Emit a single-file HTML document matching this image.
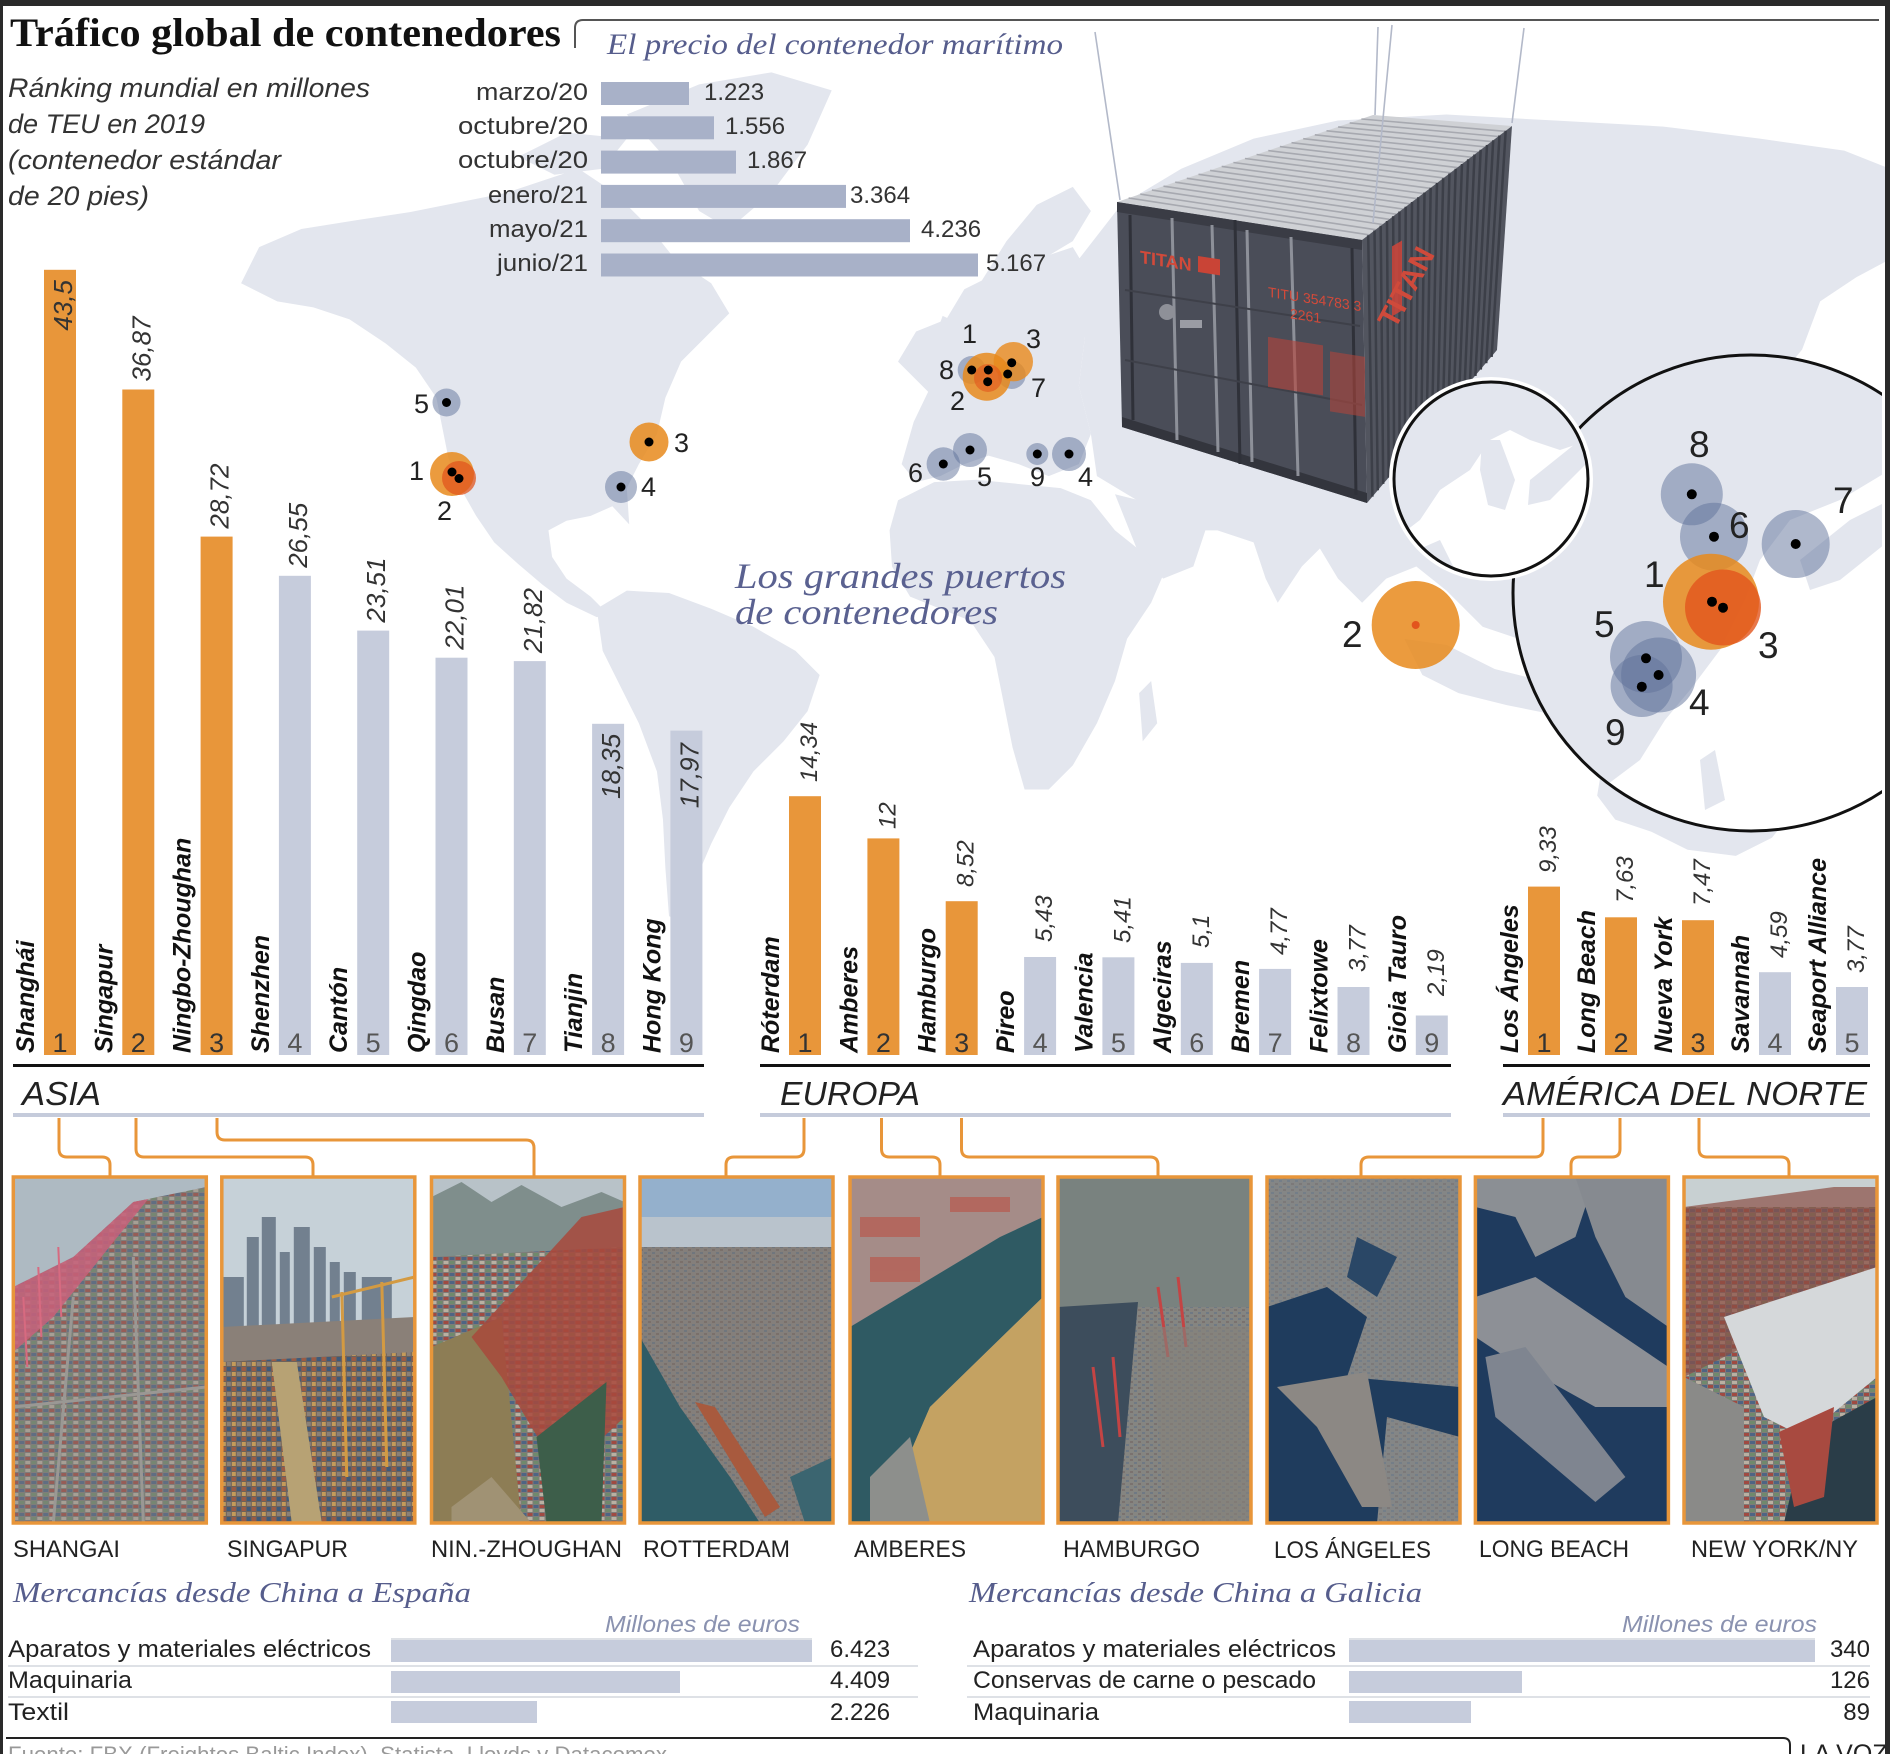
<!DOCTYPE html>
<html><head><meta charset="utf-8"><style>
html,body{margin:0;padding:0;background:#fff;}
svg{display:block;}
.sans{font-family:"Liberation Sans",sans-serif;}
.serif{font-family:"Liberation Serif",serif;}
</style></head><body>
<svg width="1890" height="1754" viewBox="0 0 1890 1754" xmlns="http://www.w3.org/2000/svg">
<defs>
<pattern id="pc" width="12" height="8" patternUnits="userSpaceOnUse">
<rect width="12" height="8" fill="#7f7b78"/><rect x="0" y="0" width="5" height="3" fill="#a04a42"/><rect x="6" y="0" width="5" height="3" fill="#4e6584"/><rect x="0" y="4" width="5" height="3" fill="#b9b0a2"/><rect x="6" y="4" width="5" height="3" fill="#6f8a6c"/>
</pattern>
<pattern id="pc2" width="10" height="10" patternUnits="userSpaceOnUse">
<rect width="10" height="10" fill="#6d625c"/><rect x="0" y="0" width="4" height="4" fill="#9b5a44"/><rect x="5" y="0" width="4" height="4" fill="#3f5a7a"/><rect x="0" y="5" width="4" height="4" fill="#c49a5a"/><rect x="5" y="5" width="4" height="4" fill="#8a8078"/>
</pattern>
<pattern id="pc3" width="8" height="6" patternUnits="userSpaceOnUse">
<rect width="8" height="6" fill="#8a8884"/><rect x="0" y="0" width="3" height="2" fill="#7a6e6a"/><rect x="4" y="3" width="3" height="2" fill="#6a7888"/>
</pattern>
<clipPath id="cp"><rect x="0" y="0" width="193" height="346"/></clipPath>
<clipPath id="pageclip"><rect x="0" y="0" width="1882" height="1754"/></clipPath>
<clipPath id="bigc"><circle cx="1751" cy="593" r="238"/></clipPath>
<clipPath id="smc"><circle cx="1491" cy="479" r="97"/></clipPath>
</defs>

<rect width="1890" height="1754" fill="#fff"/>

<!-- MAP -->
<g transform="scale(1.2054)" fill="#e3e6ee">
<path d="M200,235 L215,205 L250,190 L300,182 L340,176 L380,168 L420,160 L450,150 L480,140 L510,160 L540,190 L560,215 L590,235 L605,260 L585,280 L565,300 L552,330 L545,360 L530,385 L520,405 L522,435 L508,420 L490,428 L470,432 L455,440 L458,462 L470,480 L490,495 L505,510 L495,512 L470,500 L450,485 L430,468 L410,450 L395,428 L382,405 L372,380 L366,350 L362,330 L345,305 L320,285 L290,265 L260,255 L230,250 Z"/>
<path d="M520,95 L580,70 L640,60 L690,75 L670,120 L640,160 L605,190 L580,175 L560,140 Z"/>
<path d="M430,130 L470,110 L520,115 L500,140 L460,145 Z"/>
<path d="M495,505 L520,490 L555,492 L590,505 L625,520 L660,540 L680,560 L670,590 L650,615 L625,640 L605,670 L590,700 L575,735 L565,765 L555,760 L552,720 L550,680 L545,640 L530,600 L515,570 L500,540 Z"/>
<path d="M745,300 L760,275 L785,265 L800,240 L830,225 L860,215 L890,205 L905,230 L900,280 L895,320 L905,360 L895,385 L870,395 L845,385 L820,378 L800,385 L780,395 L760,400 L748,385 L758,350 L770,325 Z"/>
<path d="M810,240 L835,200 L860,170 L890,155 L905,175 L890,200 L865,215 L840,240 Z"/>
<path d="M772,290 L782,262 L795,268 L800,300 L790,315 L775,310 Z"/>
<path d="M745,415 L775,400 L810,398 L850,402 L880,405 L905,415 L925,440 L950,460 L968,470 L955,500 L935,530 L925,565 L910,600 L890,635 L870,655 L850,655 L840,620 L832,580 L825,545 L805,515 L780,505 L755,495 L740,470 L738,440 Z"/>
<path d="M945,575 L955,565 L960,600 L948,615 Z"/>
<path d="M895,215 L930,170 L980,140 L1040,115 L1110,100 L1200,95 L1290,100 L1380,105 L1460,115 L1530,125 L1568,140 L1568,215 L1540,230 L1510,250 L1495,290 L1470,320 L1445,350 L1425,380 L1400,395 L1380,420 L1360,440 L1340,470 L1320,500 L1290,520 L1260,530 L1230,520 L1200,490 L1175,470 L1150,480 L1130,500 L1110,480 L1095,455 L1080,470 L1060,500 L1050,480 L1040,450 L1010,440 L980,440 L960,425 L935,410 L910,395 L905,360 L895,320 L900,280 Z"/>
<path d="M925,410 L965,420 L1000,440 L990,470 L965,480 L945,460 Z"/>
<path d="M1470,330 L1490,300 L1505,320 L1480,380 L1460,395 L1450,385 Z"/>
<path d="M1165,530 L1200,535 L1240,555 L1280,565 L1320,575 L1340,590 L1300,595 L1250,585 L1210,575 L1180,560 Z"/>
<path d="M1360,470 L1375,460 L1385,500 L1370,510 Z"/>
<path d="M1330,630 L1360,605 L1400,595 L1430,600 L1460,615 L1485,640 L1490,670 L1470,695 L1440,710 L1400,705 L1370,690 L1340,680 L1325,660 Z"/>
</g>

<!-- BIG CIRCLE -->
<g clip-path="url(#pageclip)">
<circle cx="1751" cy="593" r="238" fill="#fff"/>
<g clip-path="url(#bigc)" fill="#e3e6ee">
<path d="M1500,340 L1890,340 L1890,470 L1840,500 L1790,520 L1760,560 L1745,600 L1720,650 L1690,690 L1665,720 L1640,760 L1600,790 L1560,800 L1500,800 Z"/>
<path d="M1800,560 L1850,520 L1890,500 L1890,540 L1840,580 L1810,590 Z"/>
<path d="M1700,760 L1715,750 L1725,800 L1705,810 Z"/>
</g>
<circle cx="1751" cy="593" r="238" fill="none" stroke="#111" stroke-width="3"/>
</g>

<!-- CONTAINER -->
<g>
<polygon points="1117,202 1373,115 1512,126 1362,240" fill="#cfd1d5"/>
<g stroke="#a7a9b0" stroke-width="1.6">
<line x1="1128.6" y1="198" x2="1368.8" y2="234.8"/><line x1="1140.3" y1="194.1" x2="1375.6" y2="229.7"/><line x1="1151.9" y1="190.1" x2="1382.5" y2="224.5"/><line x1="1163.5" y1="186.2" x2="1389.3" y2="219.3"/><line x1="1175.2" y1="182.2" x2="1396.1" y2="214.2"/><line x1="1186.8" y1="178.3" x2="1402.9" y2="209"/><line x1="1198.5" y1="174.3" x2="1409.7" y2="203.8"/><line x1="1210.1" y1="170.4" x2="1416.5" y2="198.6"/><line x1="1221.7" y1="166.4" x2="1423.4" y2="193.5"/><line x1="1233.4" y1="162.5" x2="1430.2" y2="188.3"/><line x1="1245" y1="158.5" x2="1437" y2="183.1"/><line x1="1256.6" y1="154.5" x2="1443.8" y2="177.9"/><line x1="1268.3" y1="150.6" x2="1450.6" y2="172.8"/><line x1="1279.9" y1="146.6" x2="1457.5" y2="167.6"/><line x1="1291.5" y1="142.7" x2="1464.3" y2="162.4"/><line x1="1303.2" y1="138.7" x2="1471.1" y2="157.2"/><line x1="1314.8" y1="134.8" x2="1477.9" y2="152"/><line x1="1326.5" y1="130.8" x2="1484.7" y2="146.8"/><line x1="1338.1" y1="126.9" x2="1491.5" y2="141.6"/><line x1="1349.7" y1="122.9" x2="1498.4" y2="136.5"/><line x1="1361.4" y1="119" x2="1505.2" y2="131.3"/>
</g>
<polygon points="1362,240 1512,126 1497,350 1367,503" fill="#52555f"/>
<g stroke="#3c3f48" stroke-width="2.5">
<line x1="1368.2" y1="235.3" x2="1372.4" y2="496.6"/><line x1="1374.5" y1="230.5" x2="1377.8" y2="490.3"/><line x1="1380.7" y1="225.8" x2="1383.2" y2="483.9"/><line x1="1387" y1="221" x2="1388.7" y2="477.6"/><line x1="1393.2" y1="216.3" x2="1394.1" y2="471.2"/><line x1="1399.5" y1="211.5" x2="1399.5" y2="464.9"/><line x1="1405.7" y1="206.8" x2="1404.9" y2="458.5"/><line x1="1412" y1="202" x2="1410.3" y2="452.1"/><line x1="1418.2" y1="197.3" x2="1415.8" y2="445.8"/><line x1="1424.5" y1="192.5" x2="1421.2" y2="439.4"/><line x1="1430.7" y1="187.8" x2="1426.6" y2="433.1"/><line x1="1437" y1="183" x2="1432" y2="426.8"/><line x1="1443.2" y1="178.3" x2="1437.4" y2="420.4"/><line x1="1449.5" y1="173.5" x2="1442.8" y2="414.1"/><line x1="1455.7" y1="168.8" x2="1448.3" y2="407.7"/><line x1="1462" y1="164" x2="1453.7" y2="401.4"/><line x1="1468.2" y1="159.3" x2="1459.1" y2="395"/><line x1="1474.5" y1="154.5" x2="1464.5" y2="388.6"/><line x1="1480.7" y1="149.8" x2="1469.9" y2="382.3"/><line x1="1487" y1="145" x2="1475.4" y2="375.9"/><line x1="1493.2" y1="140.3" x2="1480.8" y2="369.6"/><line x1="1499.5" y1="135.5" x2="1486.2" y2="363.2"/><line x1="1505.7" y1="130.8" x2="1491.6" y2="356.9"/>
</g>
<g fill="#d0453a" opacity="0.85">
<rect x="1392" y="250" width="10" height="70" transform="skewY(-30) translate(0,800)"/>
</g>
<text x="0" y="0" transform="translate(1395,330) rotate(-62)" class="sans" font-size="30" font-weight="bold" fill="#cf4a3b">TITAN</text>
<polygon points="1117,202 1362,240 1367,503 1122,427" fill="#4a4d58"/>
<polygon points="1117,202 1362,240 1362,250 1117,212" fill="#3a3c45"/>
<polygon points="1122,417 1367,493 1367,503 1122,427" fill="#33353d"/>
<g stroke="#2f3139" stroke-width="3">
<line x1="1235" y1="220" x2="1240" y2="464"/>
<line x1="1130" y1="215" x2="1133" y2="420"/>
<line x1="1352" y1="248" x2="1356" y2="495"/>
</g>
<g stroke="#8d9099" stroke-width="3">
<line x1="1172" y1="218" x2="1177" y2="440"/>
<line x1="1212" y1="225" x2="1218" y2="452"/>
<line x1="1247" y1="230" x2="1252" y2="462"/>
<line x1="1291" y1="237" x2="1298" y2="476"/>
</g>
<g stroke="#3e4049" stroke-width="2" fill="none">
<line x1="1125" y1="290" x2="1360" y2="326"/>
<line x1="1125" y1="360" x2="1362" y2="405"/>
</g>
<g transform="translate(1140,247) skewY(8.8)">
<text x="0" y="16" class="sans" font-size="18" font-weight="bold" fill="#d24a3a">TITAN</text>
<rect x="58" y="0" width="22" height="16" fill="#c94436"/>
<text x="128" y="30" class="sans" font-size="14" fill="#d24a3a">TITU  354783  3</text>
<text x="150" y="48" class="sans" font-size="14" fill="#d24a3a">2261</text>
<rect x="128" y="70" width="55" height="50" fill="#b8453a" opacity="0.6"/>
<rect x="190" y="75" width="35" height="60" fill="#b8453a" opacity="0.55"/>
</g>
<circle cx="1167" cy="312" r="8" fill="#8e9098"/>
<rect x="1180" y="320" width="22" height="8" fill="#9a9ca4"/>
</g>
<g stroke="#b3b9c9" stroke-width="1.6">
<line x1="1095" y1="32" x2="1120" y2="200"/>
<line x1="1378" y1="27" x2="1375" y2="115"/>
<line x1="1392" y1="25" x2="1373" y2="223"/>
<line x1="1524" y1="28" x2="1512" y2="123"/>
</g>

<!-- SMALL CIRCLE -->
<circle cx="1491" cy="479" r="99" fill="#fff" stroke="#fff" stroke-width="6"/>
<g clip-path="url(#smc)" fill="#e3e6ee">
<path d="M1394,380 L1590,380 L1590,440 L1560,450 L1530,440 L1510,430 L1490,440 L1470,470 L1440,490 L1420,520 L1394,540 Z"/>
<path d="M1482,440 L1500,440 L1515,480 L1505,510 L1488,505 L1480,470 Z"/>
<path d="M1530,480 L1580,440 L1590,460 L1550,500 L1528,505 Z"/>
<path d="M1394,560 L1440,540 L1460,580 L1394,580 Z"/>
</g>
<circle cx="1491" cy="479" r="97" fill="none" stroke="#111" stroke-width="3"/>

<!-- MARKERS -->
<g class="sans" fill="#222">
<!-- US -->
<circle cx="446.5" cy="402.5" r="14" fill="#5f7299" fill-opacity="0.5"/><circle cx="446.5" cy="402.5" r="4.5" fill="#000"/>
<text x="414" y="413" font-size="27">5</text>
<circle cx="452" cy="474" r="22" fill="#e88a1c" fill-opacity="0.85"/><circle cx="459" cy="478" r="17" fill="#e2551d" fill-opacity="0.75"/>
<circle cx="452" cy="472" r="4.5" fill="#000"/><circle cx="459" cy="478.5" r="4.5" fill="#000"/>
<text x="409" y="480" font-size="27">1</text><text x="437" y="520" font-size="27">2</text>
<circle cx="649" cy="442" r="19.5" fill="#e88a1c" fill-opacity="0.85"/><circle cx="649" cy="442" r="4.5" fill="#000"/>
<text x="674" y="452" font-size="27">3</text>
<circle cx="621" cy="487" r="16" fill="#5f7299" fill-opacity="0.5"/><circle cx="621" cy="487" r="4.5" fill="#000"/>
<text x="641" y="496" font-size="27">4</text>
<!-- Europe -->
<circle cx="971.7" cy="370" r="14" fill="#5f7299" fill-opacity="0.5"/>
<circle cx="1011.7" cy="375" r="14" fill="#5f7299" fill-opacity="0.5"/>
<circle cx="986.7" cy="376.7" r="24" fill="#e88a1c" fill-opacity="0.85"/>
<circle cx="1013.3" cy="361.7" r="19.7" fill="#e88a1c" fill-opacity="0.8"/>
<circle cx="988" cy="378" r="14" fill="#e2551d" fill-opacity="0.6"/>
<circle cx="971.7" cy="370" r="4.5" fill="#000"/><circle cx="988.3" cy="370" r="4.5" fill="#000"/><circle cx="987.7" cy="381.7" r="4.5" fill="#000"/><circle cx="1007.7" cy="374" r="4.5" fill="#000"/><circle cx="1011.7" cy="362.7" r="4.5" fill="#000"/>
<text x="962" y="343" font-size="27">1</text><text x="1026" y="348" font-size="27">3</text>
<text x="939" y="379" font-size="27">8</text><text x="1031" y="397" font-size="27">7</text><text x="950" y="410" font-size="27">2</text>
<circle cx="943.3" cy="464" r="16.7" fill="#5f7299" fill-opacity="0.5"/><circle cx="943.3" cy="464" r="4.5" fill="#000"/>
<circle cx="970" cy="450" r="17" fill="#5f7299" fill-opacity="0.5"/><circle cx="970" cy="450" r="4.5" fill="#000"/>
<circle cx="1037.3" cy="454" r="11" fill="#5f7299" fill-opacity="0.5"/><circle cx="1037.3" cy="454" r="4.5" fill="#000"/>
<circle cx="1069" cy="454" r="17" fill="#5f7299" fill-opacity="0.5"/><circle cx="1069" cy="454" r="4.5" fill="#000"/>
<text x="908" y="482" font-size="27">6</text><text x="977" y="486" font-size="27">5</text><text x="1030" y="486" font-size="27">9</text><text x="1078" y="486" font-size="27">4</text>
<!-- Singapore -->
<circle cx="1415.7" cy="625" r="44" fill="#e88a1c" fill-opacity="0.85"/>
<circle cx="1415.7" cy="625" r="4" fill="#e2551d"/>
<text x="1342" y="647" font-size="37">2</text>
<!-- Asia zoom -->
<circle cx="1691.8" cy="494.3" r="31" fill="#5f7299" fill-opacity="0.5"/>
<circle cx="1714" cy="536.7" r="34" fill="#5f7299" fill-opacity="0.5"/>
<circle cx="1795.7" cy="544" r="34" fill="#5f7299" fill-opacity="0.5"/>
<circle cx="1646" cy="657" r="36" fill="#5f7299" fill-opacity="0.5"/>
<circle cx="1658.6" cy="675" r="37.5" fill="#5f7299" fill-opacity="0.5"/>
<circle cx="1641.6" cy="686" r="31" fill="#5f7299" fill-opacity="0.5"/>
<circle cx="1711" cy="601.7" r="48" fill="#e88a1c" fill-opacity="0.85"/>
<circle cx="1723" cy="607.5" r="38" fill="#e2551d" fill-opacity="0.8"/>
<circle cx="1691.8" cy="494.3" r="5" fill="#000"/><circle cx="1714" cy="536.7" r="5" fill="#000"/><circle cx="1795.7" cy="544" r="5" fill="#000"/>
<circle cx="1712" cy="601.7" r="5" fill="#000"/><circle cx="1723" cy="607.7" r="5" fill="#000"/>
<circle cx="1646" cy="658.3" r="5" fill="#000"/><circle cx="1658.6" cy="675" r="5" fill="#000"/><circle cx="1641.8" cy="686.7" r="5" fill="#000"/>
<text x="1689" y="457" font-size="37">8</text><text x="1729" y="538" font-size="37">6</text><text x="1833" y="513" font-size="37">7</text>
<text x="1644" y="587" font-size="37">1</text><text x="1758" y="658" font-size="37">3</text><text x="1594" y="637" font-size="37">5</text>
<text x="1689" y="715" font-size="37">4</text><text x="1605" y="745" font-size="37">9</text>
</g>

<!-- TITLES -->
<text x="10" y="46" class="serif" font-size="40" font-weight="bold" fill="#111" textLength="551" lengthAdjust="spacingAndGlyphs">Tráfico global de contenedores</text>
<path d="M575,48 V28 Q575,20 583,20 H1879" fill="none" stroke="#555" stroke-width="2"/>
<text x="607" y="54" class="serif" font-size="30" font-style="italic" fill="#565d8c" textLength="456" lengthAdjust="spacingAndGlyphs">El precio del contenedor marítimo</text>
<g class="sans" font-size="27" font-style="italic" fill="#333">
<text x="8" y="97" textLength="362" lengthAdjust="spacingAndGlyphs">Ránking mundial en millones</text>
<text x="8" y="133" textLength="197" lengthAdjust="spacingAndGlyphs">de TEU en 2019</text>
<text x="8" y="169" textLength="273" lengthAdjust="spacingAndGlyphs">(contenedor estándar</text>
<text x="8" y="205" textLength="141" lengthAdjust="spacingAndGlyphs">de 20 pies)</text>
</g>
<text x="735" y="588" class="serif" font-size="36" font-style="italic" fill="#5a6190" textLength="331" lengthAdjust="spacingAndGlyphs">Los grandes puertos</text>
<text x="735" y="624" class="serif" font-size="36" font-style="italic" fill="#5a6190" textLength="263" lengthAdjust="spacingAndGlyphs">de contenedores</text>

<!-- PRICE CHART -->
<g fill="#a8b1c8">
<rect x="601" y="82" width="88" height="23"/>
<rect x="601" y="116.3" width="113" height="23"/>
<rect x="601" y="150.6" width="135" height="23"/>
<rect x="601" y="184.9" width="245" height="23"/>
<rect x="601" y="219.2" width="309" height="23"/>
<rect x="601" y="253.5" width="377" height="23"/>
</g>
<g class="sans" font-size="24" fill="#333">
<text x="588" y="100" text-anchor="end" textLength="112" lengthAdjust="spacingAndGlyphs">marzo/20</text>
<text x="588" y="134" text-anchor="end" textLength="130" lengthAdjust="spacingAndGlyphs">octubre/20</text>
<text x="588" y="168" text-anchor="end" textLength="130" lengthAdjust="spacingAndGlyphs">octubre/20</text>
<text x="588" y="203" text-anchor="end" textLength="100" lengthAdjust="spacingAndGlyphs">enero/21</text>
<text x="588" y="237" text-anchor="end" textLength="99" lengthAdjust="spacingAndGlyphs">mayo/21</text>
<text x="588" y="271" text-anchor="end" textLength="91" lengthAdjust="spacingAndGlyphs">junio/21</text>
<text x="704" y="100">1.223</text>
<text x="725" y="134">1.556</text>
<text x="747" y="168">1.867</text>
<text x="850" y="203">3.364</text>
<text x="921" y="237">4.236</text>
<text x="986" y="271">5.167</text>
</g>

<!-- BARS -->
<g>
<rect x="44" y="269.8" width="32" height="785.2" fill="#e8963a"/>
<rect x="122.3" y="389.5" width="32" height="665.5" fill="#e8963a"/>
<rect x="200.6" y="536.6" width="32" height="518.4" fill="#e8963a"/>
<rect x="278.9" y="575.8" width="32" height="479.2" fill="#c6ccdc"/>
<rect x="357.2" y="630.6" width="32" height="424.4" fill="#c6ccdc"/>
<rect x="435.5" y="657.7" width="32" height="397.3" fill="#c6ccdc"/>
<rect x="513.8" y="661.1" width="32" height="393.9" fill="#c6ccdc"/>
<rect x="592.1" y="723.8" width="32" height="331.2" fill="#c6ccdc"/>
<rect x="670.4" y="730.6" width="32" height="324.4" fill="#c6ccdc"/>

<rect x="789" y="796.2" width="32" height="258.8" fill="#e8963a"/>
<rect x="867.4" y="838.4" width="32" height="216.6" fill="#e8963a"/>
<rect x="945.7" y="901.2" width="32" height="153.8" fill="#e8963a"/>
<rect x="1024.1" y="957" width="32" height="98" fill="#c6ccdc"/>
<rect x="1102.4" y="957.3" width="32" height="97.7" fill="#c6ccdc"/>
<rect x="1180.8" y="962.9" width="32" height="92.1" fill="#c6ccdc"/>
<rect x="1259.1" y="968.9" width="32" height="86.1" fill="#c6ccdc"/>
<rect x="1337.5" y="987" width="32" height="68" fill="#c6ccdc"/>
<rect x="1415.8" y="1015.5" width="32" height="39.5" fill="#c6ccdc"/>

<rect x="1528" y="886.6" width="32" height="168.4" fill="#e8963a"/>
<rect x="1605" y="917.3" width="32" height="137.7" fill="#e8963a"/>
<rect x="1682" y="920.2" width="32" height="134.8" fill="#e8963a"/>
<rect x="1759" y="972.2" width="32" height="82.8" fill="#c6ccdc"/>
<rect x="1836" y="987" width="32" height="68" fill="#c6ccdc"/>
</g>

<!-- name labels -->
<g class="sans" font-size="25" font-weight="bold" font-style="italic" fill="#111">
<text transform="translate(34,1053) rotate(-90)">Shanghái</text>
<text transform="translate(112.3,1053) rotate(-90)">Singapur</text>
<text transform="translate(190.6,1053) rotate(-90)">Ningbo-Zhoughan</text>
<text transform="translate(268.9,1053) rotate(-90)">Shenzhen</text>
<text transform="translate(347.2,1053) rotate(-90)">Cantón</text>
<text transform="translate(425.5,1053) rotate(-90)">Qingdao</text>
<text transform="translate(503.8,1053) rotate(-90)">Busan</text>
<text transform="translate(582.1,1053) rotate(-90)">Tianjin</text>
<text transform="translate(660.4,1053) rotate(-90)">Hong Kong</text>
<text transform="translate(779,1053) rotate(-90)">Róterdam</text>
<text transform="translate(857.4,1053) rotate(-90)">Amberes</text>
<text transform="translate(935.7,1053) rotate(-90)">Hamburgo</text>
<text transform="translate(1014.1,1053) rotate(-90)">Pireo</text>
<text transform="translate(1092.4,1053) rotate(-90)">Valencia</text>
<text transform="translate(1170.8,1053) rotate(-90)">Algeciras</text>
<text transform="translate(1249.1,1053) rotate(-90)">Bremen</text>
<text transform="translate(1327.5,1053) rotate(-90)">Felixtowe</text>
<text transform="translate(1405.8,1053) rotate(-90)">Gioia Tauro</text>
<text transform="translate(1518,1053) rotate(-90)">Los Ángeles</text>
<text transform="translate(1595,1053) rotate(-90)">Long Beach</text>
<text transform="translate(1672,1053) rotate(-90)">Nueva York</text>
<text transform="translate(1749,1053) rotate(-90)">Savannah</text>
<text transform="translate(1826,1053) rotate(-90)">Seaport Alliance</text>
</g>

<!-- values -->
<g class="sans" font-size="26" font-style="italic" fill="#333">
<text transform="translate(72,280) rotate(-90)" text-anchor="end">43,5</text>
<text transform="translate(150.3,381.5) rotate(-90)">36,87</text>
<text transform="translate(228.6,528.6) rotate(-90)">28,72</text>
<text transform="translate(306.9,567.8) rotate(-90)">26,55</text>
<text transform="translate(385.2,622.6) rotate(-90)">23,51</text>
<text transform="translate(463.5,649.7) rotate(-90)">22,01</text>
<text transform="translate(541.8,653.1) rotate(-90)">21,82</text>
<text transform="translate(620.1,733.8) rotate(-90)" text-anchor="end">18,35</text>
<text transform="translate(698.4,743) rotate(-90)" text-anchor="end">17,97</text>
</g>
<g class="sans" font-size="24" font-style="italic" fill="#333">
<text transform="translate(817,782) rotate(-90)">14,34</text>
<text transform="translate(895.4,829) rotate(-90)">12</text>
<text transform="translate(973.7,887) rotate(-90)">8,52</text>
<text transform="translate(1052.1,942) rotate(-90)">5,43</text>
<text transform="translate(1130.4,943) rotate(-90)">5,41</text>
<text transform="translate(1208.8,948) rotate(-90)">5,1</text>
<text transform="translate(1287.1,955) rotate(-90)">4,77</text>
<text transform="translate(1365.5,972) rotate(-90)">3,77</text>
<text transform="translate(1443.8,996) rotate(-90)">2,19</text>
<text transform="translate(1556,873) rotate(-90)">9,33</text>
<text transform="translate(1633,903) rotate(-90)">7,63</text>
<text transform="translate(1710,906) rotate(-90)">7,47</text>
<text transform="translate(1787,958) rotate(-90)">4,59</text>
<text transform="translate(1864,973) rotate(-90)">3,77</text>
</g>

<!-- rank numbers -->
<g class="sans" font-size="27" fill="#333" text-anchor="middle">
<text x="60" y="1052">1</text><text x="138.3" y="1052">2</text><text x="216.6" y="1052">3</text><text x="294.9" y="1052" fill="#555">4</text><text x="373.2" y="1052" fill="#555">5</text><text x="451.5" y="1052" fill="#555">6</text><text x="529.8" y="1052" fill="#555">7</text><text x="608.1" y="1052" fill="#555">8</text><text x="686.4" y="1052" fill="#555">9</text>
<text x="805" y="1052">1</text><text x="883.4" y="1052">2</text><text x="961.7" y="1052">3</text><text x="1040.1" y="1052" fill="#555">4</text><text x="1118.4" y="1052" fill="#555">5</text><text x="1196.8" y="1052" fill="#555">6</text><text x="1275.1" y="1052" fill="#555">7</text><text x="1353.5" y="1052" fill="#555">8</text><text x="1431.8" y="1052" fill="#555">9</text>
<text x="1544" y="1052">1</text><text x="1621" y="1052">2</text><text x="1698" y="1052">3</text><text x="1775" y="1052" fill="#555">4</text><text x="1852" y="1052" fill="#555">5</text>
</g>

<!-- region rules -->
<g fill="#111">
<rect x="13" y="1064" width="691" height="3"/>
<rect x="760" y="1064" width="691" height="3"/>
<rect x="1503" y="1064" width="367" height="3"/>
</g>
<g fill="#c5cbdb">
<rect x="13" y="1113" width="691" height="4"/>
<rect x="760" y="1113" width="691" height="4"/>
<rect x="1503" y="1113" width="367" height="4"/>
</g>
<g class="sans" font-size="33" font-style="italic" fill="#222">
<text x="22" y="1105" textLength="79" lengthAdjust="spacingAndGlyphs">ASIA</text>
<text x="780" y="1105" textLength="140" lengthAdjust="spacingAndGlyphs">EUROPA</text>
<text x="1503" y="1105" textLength="364" lengthAdjust="spacingAndGlyphs">AMÉRICA DEL NORTE</text>
</g>

<!-- connectors -->
<g fill="none" stroke="#e8963a" stroke-width="3">
<path d="M59,1118 V1149 Q59,1157 67,1157 H102 Q110,1157 110,1165 V1177"/>
<path d="M136,1118 V1149 Q136,1157 144,1157 H305 Q313,1157 313,1165 V1177"/>
<path d="M217,1118 V1132 Q217,1140 225,1140 H526 Q534,1140 534,1148 V1177"/>
<path d="M804,1118 V1149 Q804,1157 796,1157 H734 Q726,1157 726,1165 V1177"/>
<path d="M881.5,1118 V1149 Q881.5,1157 889.5,1157 H932 Q940,1157 940,1165 V1177"/>
<path d="M961.5,1118 V1149 Q961.5,1157 969.5,1157 H1150 Q1158,1157 1158,1165 V1177"/>
<path d="M1543,1118 V1149 Q1543,1157 1535,1157 H1369 Q1361,1157 1361,1165 V1177"/>
<path d="M1620,1118 V1149 Q1620,1157 1612,1157 H1579 Q1571,1157 1571,1165 V1177"/>
<path d="M1699,1118 V1149 Q1699,1157 1707,1157 H1781 Q1789,1157 1789,1165 V1177"/>
</g>

<!-- PHOTOS -->
<g transform="translate(13.3,1177)"><g clip-path="url(#cp)">
<rect width="193" height="346" fill="url(#pc)"/>
<rect width="193" height="346" fill="#85817e" opacity="0.35"/>
<polygon points="0,0 193,0 193,10 120,25 60,80 0,110" fill="#aebac2"/>
<polygon points="0,110 60,80 120,25 135,22 100,65 40,140 0,175" fill="#c8607a" opacity="0.85"/>
<g stroke="#d76a80" stroke-width="2"><line x1="25" y1="90" x2="28" y2="160"/><line x1="45" y1="70" x2="48" y2="140"/><line x1="10" y1="120" x2="14" y2="190"/></g>
<g stroke="#9a9894" stroke-width="3"><line x1="60" y1="120" x2="40" y2="346"/><line x1="120" y1="80" x2="130" y2="346"/><line x1="0" y1="230" x2="193" y2="210"/></g>
</g></g>
<g transform="translate(221.8,1177)"><g clip-path="url(#cp)">
<rect width="193" height="346" fill="url(#pc2)"/>
<rect width="193" height="150" fill="#c6d1d8"/>
<g fill="#72808f"><rect x="25" y="60" width="12" height="100"/><rect x="40" y="40" width="14" height="120"/><rect x="58" y="75" width="10" height="90"/><rect x="72" y="50" width="16" height="110"/><rect x="92" y="70" width="12" height="90"/><rect x="108" y="85" width="10" height="80"/><rect x="122" y="95" width="12" height="70"/><rect x="0" y="100" width="22" height="60"/><rect x="140" y="100" width="30" height="60"/></g>
<polygon points="0,150 193,140 193,175 0,185" fill="#8a8078"/>
<polygon points="50,185 75,185 100,346 70,346" fill="#b7a274"/>
<g stroke="#d39a42" stroke-width="3"><line x1="110" y1="120" x2="193" y2="100"/><line x1="120" y1="115" x2="125" y2="300"/><line x1="160" y1="105" x2="165" y2="290"/></g>
</g></g>
<g transform="translate(431.5,1177)"><g clip-path="url(#cp)">
<rect width="193" height="346" fill="url(#pc)"/>
<rect width="193" height="30" fill="#b8c2c8"/>
<polygon points="0,20 30,5 60,25 90,8 130,30 170,15 193,25 193,70 0,80" fill="#7f8e8c"/>
<polygon points="0,170 70,140 90,346 0,346" fill="#8d7d55"/>
<polygon points="40,160 150,40 193,30 193,240 130,300 70,200" fill="#a8493c" opacity="0.85"/>
<polygon points="105,260 175,205 170,346 115,346" fill="#3d5e4a"/>
<polygon points="20,330 60,300 100,346 20,346" fill="#a09274"/>
</g></g>
<g transform="translate(640,1177)"><g clip-path="url(#cp)">
<rect width="193" height="346" fill="url(#pc3)"/>
<rect width="193" height="346" fill="#7a736e" opacity="0.4"/>
<rect width="193" height="45" fill="#94b0cc"/>
<rect y="40" width="193" height="30" fill="#b9c3cc"/>
<polygon points="0,160 40,230 90,300 120,346 0,346" fill="#2f5c66"/>
<polygon points="55,225 75,230 140,330 125,340" fill="#a85a3e"/>
<polygon points="150,300 193,280 193,346 165,346" fill="#3b6570"/>
</g></g>
<g transform="translate(850,1177)"><g clip-path="url(#cp)">
<rect width="193" height="346" fill="#a8a098"/>
<polygon points="0,0 193,0 193,40 150,60 0,150" fill="#a58c88"/>
<g fill="#b85a4e" opacity="0.7"><rect x="10" y="40" width="60" height="20"/><rect x="20" y="80" width="50" height="25"/><rect x="100" y="20" width="60" height="15"/></g>
<polygon points="0,150 150,60 193,40 193,120 80,230 30,346 0,346" fill="#2f5a63"/>
<polygon points="80,230 193,120 193,346 30,346" fill="#c4a262"/>
<polygon points="20,300 60,260 80,346 20,346" fill="#8d8f8c"/>
</g></g>
<g transform="translate(1058,1177)"><g clip-path="url(#cp)">
<rect width="193" height="346" fill="url(#pc3)"/>
<rect width="193" height="346" fill="#7c7d7a" opacity="0.3"/>
<rect width="193" height="130" fill="#79827f"/>
<polygon points="0,130 80,125 60,346 0,346" fill="#3d4d5c"/>
<g stroke="#c44444" stroke-width="3"><line x1="35" y1="190" x2="45" y2="270"/><line x1="55" y1="180" x2="62" y2="260"/><line x1="100" y1="110" x2="110" y2="180"/><line x1="120" y1="100" x2="128" y2="170"/></g>
<polygon points="90,150 193,150 193,346 110,346" fill="#85827c" opacity="0.6"/>
</g></g>
<g transform="translate(1267,1177)"><g clip-path="url(#cp)">
<rect width="193" height="346" fill="#7e8387"/>
<rect width="193" height="346" fill="url(#pc3)" opacity="0.5"/>
<polygon points="0,130 60,110 100,140 80,200 193,210 193,260 120,240 110,346 0,346" fill="#1f3c5d"/>
<polygon points="10,210 100,195 125,330 95,330 50,250" fill="#8c8884"/>
<polygon points="90,60 130,80 110,120 80,100" fill="#2a4766"/>
</g></g>
<g transform="translate(1475.4,1177)"><g clip-path="url(#cp)">
<rect width="193" height="346" fill="#1f3b5e"/>
<polygon points="0,0 120,0 100,60 60,80 40,40 0,30" fill="#8b8f94"/>
<polygon points="100,0 193,0 193,150 150,120 120,60" fill="#868a90"/>
<polygon points="0,120 60,100 193,190 193,230 120,230 30,180 0,160" fill="#8d9096"/>
<polygon points="10,180 50,170 150,300 120,325 20,240" fill="#7f8590"/>
</g></g>
<g transform="translate(1684,1177)"><g clip-path="url(#cp)">
<rect width="193" height="346" fill="url(#pc)"/>
<rect width="193" height="30" fill="#c8d0d2"/>
<polygon points="0,30 150,10 193,10 193,100 100,150 0,200" fill="#8a4e44" opacity="0.7"/>
<polygon points="40,140 193,90 193,200 120,260 80,240" fill="#d5d8da"/>
<polygon points="0,200 60,230 60,346 0,346" fill="#8a8a88"/>
<polygon points="120,260 193,220 193,346 100,346" fill="#2a3d48"/>
<polygon points="95,255 150,230 140,320 110,330" fill="#a84a40"/>
</g></g>
<g fill="none" stroke="#e8963a" stroke-width="3.5">
<rect x="13.3" y="1177" width="193" height="346"/>
<rect x="221.8" y="1177" width="193" height="346"/>
<rect x="431.5" y="1177" width="193" height="346"/>
<rect x="640" y="1177" width="193" height="346"/>
<rect x="850" y="1177" width="193" height="346"/>
<rect x="1058" y="1177" width="193" height="346"/>
<rect x="1267" y="1177" width="193" height="346"/>
<rect x="1475.4" y="1177" width="193" height="346"/>
<rect x="1684" y="1177" width="193" height="346"/>
</g>

<!-- captions -->
<g class="sans" font-size="24" fill="#222">
<text x="13" y="1557" textLength="107" lengthAdjust="spacingAndGlyphs">SHANGAI</text>
<text x="227" y="1557" textLength="121" lengthAdjust="spacingAndGlyphs">SINGAPUR</text>
<text x="431" y="1557" textLength="191" lengthAdjust="spacingAndGlyphs">NIN.-ZHOUGHAN</text>
<text x="643" y="1557" textLength="147" lengthAdjust="spacingAndGlyphs">ROTTERDAM</text>
<text x="854" y="1557" textLength="112" lengthAdjust="spacingAndGlyphs">AMBERES</text>
<text x="1063" y="1557" textLength="137" lengthAdjust="spacingAndGlyphs">HAMBURGO</text>
<text x="1274" y="1558" textLength="157" lengthAdjust="spacingAndGlyphs">LOS ÁNGELES</text>
<text x="1479" y="1557" textLength="150" lengthAdjust="spacingAndGlyphs">LONG BEACH</text>
<text x="1691" y="1557" textLength="167" lengthAdjust="spacingAndGlyphs">NEW YORK/NY</text>
</g>

<!-- TABLES -->
<text x="13" y="1602" class="serif" font-size="29" font-style="italic" fill="#565d8c" textLength="458" lengthAdjust="spacingAndGlyphs">Mercancías desde China a España</text>
<text x="969" y="1602" class="serif" font-size="29" font-style="italic" fill="#565d8c" textLength="453" lengthAdjust="spacingAndGlyphs">Mercancías desde China a Galicia</text>
<g class="sans" font-size="23" font-style="italic" fill="#8a92b0">
<text x="605" y="1632" textLength="195" lengthAdjust="spacingAndGlyphs">Millones de euros</text>
<text x="1622" y="1632" textLength="195" lengthAdjust="spacingAndGlyphs">Millones de euros</text>
</g>
<g stroke="#d4d7de" stroke-width="1.5">
<line x1="391" y1="1639" x2="812" y2="1639"/>
<line x1="8" y1="1666" x2="918" y2="1666"/>
<line x1="8" y1="1697" x2="918" y2="1697"/>
<line x1="1349" y1="1639" x2="1815" y2="1639"/>
<line x1="967" y1="1666" x2="1870" y2="1666"/>
<line x1="967" y1="1697" x2="1870" y2="1697"/>
</g>
<g fill="#c6ccdc">
<rect x="391" y="1640" width="421" height="22"/>
<rect x="391" y="1671" width="289" height="22"/>
<rect x="391" y="1701" width="146" height="22"/>
<rect x="1349" y="1640" width="466" height="22"/>
<rect x="1349" y="1671" width="173" height="22"/>
<rect x="1349" y="1701" width="122" height="22"/>
</g>
<g class="sans" font-size="24" fill="#222">
<text x="8" y="1657" textLength="363" lengthAdjust="spacingAndGlyphs">Aparatos y materiales eléctricos</text>
<text x="8" y="1688" textLength="124" lengthAdjust="spacingAndGlyphs">Maquinaria</text>
<text x="8" y="1720" textLength="61" lengthAdjust="spacingAndGlyphs">Textil</text>
<text x="830" y="1657">6.423</text>
<text x="830" y="1688">4.409</text>
<text x="830" y="1720">2.226</text>
<text x="973" y="1657" textLength="363" lengthAdjust="spacingAndGlyphs">Aparatos y materiales eléctricos</text>
<text x="973" y="1688" textLength="343" lengthAdjust="spacingAndGlyphs">Conservas de carne o pescado</text>
<text x="973" y="1720" textLength="126" lengthAdjust="spacingAndGlyphs">Maquinaria</text>
<text x="1870" y="1657" text-anchor="end">340</text>
<text x="1870" y="1688" text-anchor="end">126</text>
<text x="1870" y="1720" text-anchor="end">89</text>
</g>

<!-- FOOTER -->
<path d="M6,1738 H1783 Q1790,1738 1790,1745 V1754" fill="none" stroke="#222" stroke-width="2"/>
<text x="8" y="1762" class="sans" font-size="22" fill="#999" textLength="659" lengthAdjust="spacingAndGlyphs">Fuente:   FBX (Freightos Baltic Index), Statista, Lloyds  y Datacomex</text>
<text x="1800" y="1762" class="sans" font-size="25" fill="#222">LA VOZ</text>

<!-- FRAME -->
<rect x="0" y="0" width="1890" height="6" fill="#2a2a2a"/>
<rect x="0" y="0" width="3" height="1754" fill="#2a2a2a"/>
<rect x="1885" y="0" width="5" height="1754" fill="#2a2a2a"/>
</svg>
</body></html>
